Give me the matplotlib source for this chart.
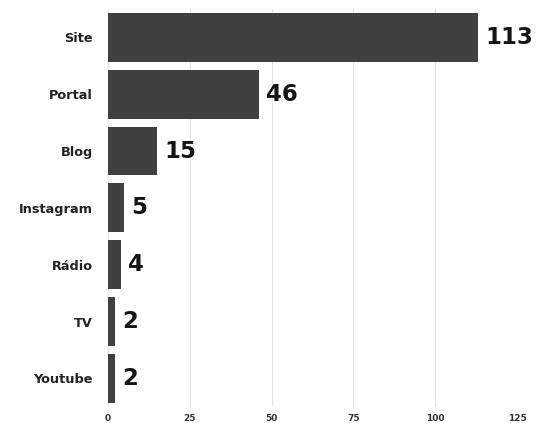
import matplotlib
matplotlib.use("Agg")
import matplotlib.pyplot as plt

categories = ["Site", "Portal", "Blog", "Instagram", "Rádio", "TV", "Youtube"]
counts = [113, 46, 15, 5, 4, 2, 2]
xticks = [0, 25, 50, 75, 100, 125]

fig = plt.figure(figsize=(5.43, 4.23), dpi=100)
ax = fig.add_axes([0.199, 0.038, 0.753, 0.941])

pos = range(len(categories))
ax.barh(pos, counts, height=0.86, color="#404040", zorder=2)

for y, v in zip(pos, counts):
    ax.text(v + 2.2, y, str(v), va="center", ha="left",
            fontsize=16.5, fontweight="heavy", color="#151515")

ax.set_ylim(len(categories) - 0.5, -0.5)
ax.set_xlim(0, 125)
ax.set_yticks(list(pos))
ax.set_yticklabels(categories, fontsize=9.3, fontweight="bold", color="#222222")
ax.set_xticks(xticks)
ax.set_xticklabels([str(t) for t in xticks], fontsize=6.5, fontweight="bold", color="#333333")
ax.tick_params(length=0, pad=5)
ax.tick_params(axis="y", pad=11)
ax.grid(axis="x", color="#e4e4e4", lw=0.8, zorder=0)
for s in ax.spines.values():
    s.set_visible(False)

plt.savefig("out.png", dpi=100)
